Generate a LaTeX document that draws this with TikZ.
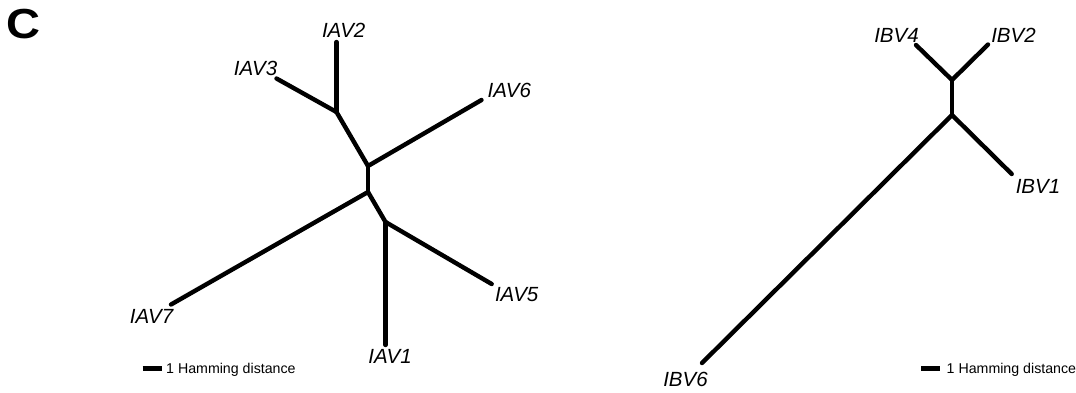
\documentclass[tikz,border=0pt]{standalone}
\usepackage{fontspec}
\setmainfont{Liberation Sans}
\begin{document}
\begin{tikzpicture}[x=1pt,y=-1pt,
  branch/.style={line width=4.4pt, line cap=round, line join=round},
  leaflabel/.style={font=\fontsize{20.5}{24}\selectfont\itshape, inner sep=0pt},
  scalebar/.style={line width=4.8pt},
  scaletext/.style={font=\fontsize{14.2}{16}\selectfont, anchor=base west, inner sep=0pt}]
\useasboundingbox (0,0) rectangle (1076,392);

% panel letter
\node[font=\fontsize{42}{46}\selectfont\bfseries, inner sep=0pt, anchor=base] (panel) at (23.8,38.5) {\scalebox{1.12}[1]{C}};

% ---- influenza A tree ----
\coordinate (a) at (336.5,112);
\coordinate (b) at (368,166);
\coordinate (c) at (368,192);
\coordinate (d) at (385.5,222);
\coordinate (iav2) at (336.5,42);
\coordinate (iav3) at (276.5,78.5);
\coordinate (iav6) at (481.5,100);
\coordinate (iav7) at (171,304.5);
\coordinate (iav1) at (385.5,345);
\coordinate (iav5) at (491.7,284);

\draw[branch] (a) -- (iav2);
\draw[branch] (a) -- (iav3);
\draw[branch] (a) -- (b);
\draw[branch] (b) -- (iav6);
\draw[branch] (b) -- (c);
\draw[branch] (c) -- (iav7);
\draw[branch] (c) -- (d);
\draw[branch] (d) -- (iav1);
\draw[branch] (d) -- (iav5);

\node[leaflabel] (liav2) at (343.7,30.5) {IAV2};
\node[leaflabel] (liav3) at (255.5,68.3) {IAV3};
\node[leaflabel] (liav6) at (509.3,90.5) {IAV6};
\node[leaflabel] (liav7) at (151.5,316) {IAV7};
\node[leaflabel] (liav5) at (516.7,295) {IAV5};
\node[leaflabel] (liav1) at (390,356) {IAV1};

% scale bar, left
\coordinate (sa1) at (142.5,368.5);
\coordinate (sa2) at (161.5,368.5);
\draw[scalebar] (sa1) -- (sa2);
\node[scaletext] (sat) at (166,373.5) {1 Hamming distance};

% ---- influenza B tree ----
\coordinate (e) at (952,80);
\coordinate (f) at (952,115);
\coordinate (ibv4) at (916,45);
\coordinate (ibv2) at (988,44.5);
\coordinate (ibv1) at (1011.7,174);
\coordinate (ibv6) at (702,363);

\draw[branch] (e) -- (ibv4);
\draw[branch] (e) -- (ibv2);
\draw[branch] (e) -- (f);
\draw[branch] (f) -- (ibv1);
\draw[branch] (f) -- (ibv6);

\node[leaflabel] (libv4) at (896.5,35) {IBV4};
\node[leaflabel] (libv2) at (1013.5,35) {IBV2};
\node[leaflabel] (libv1) at (1038,186) {IBV1};
\node[leaflabel] (libv6) at (685.5,379) {IBV6};

% scale bar, right
\coordinate (sb1) at (921,368.5);
\coordinate (sb2) at (940,368.5);
\draw[scalebar] (sb1) -- (sb2);
\node[scaletext] (sbt) at (946.5,373.5) {1 Hamming distance};
\end{tikzpicture}
\end{document}
